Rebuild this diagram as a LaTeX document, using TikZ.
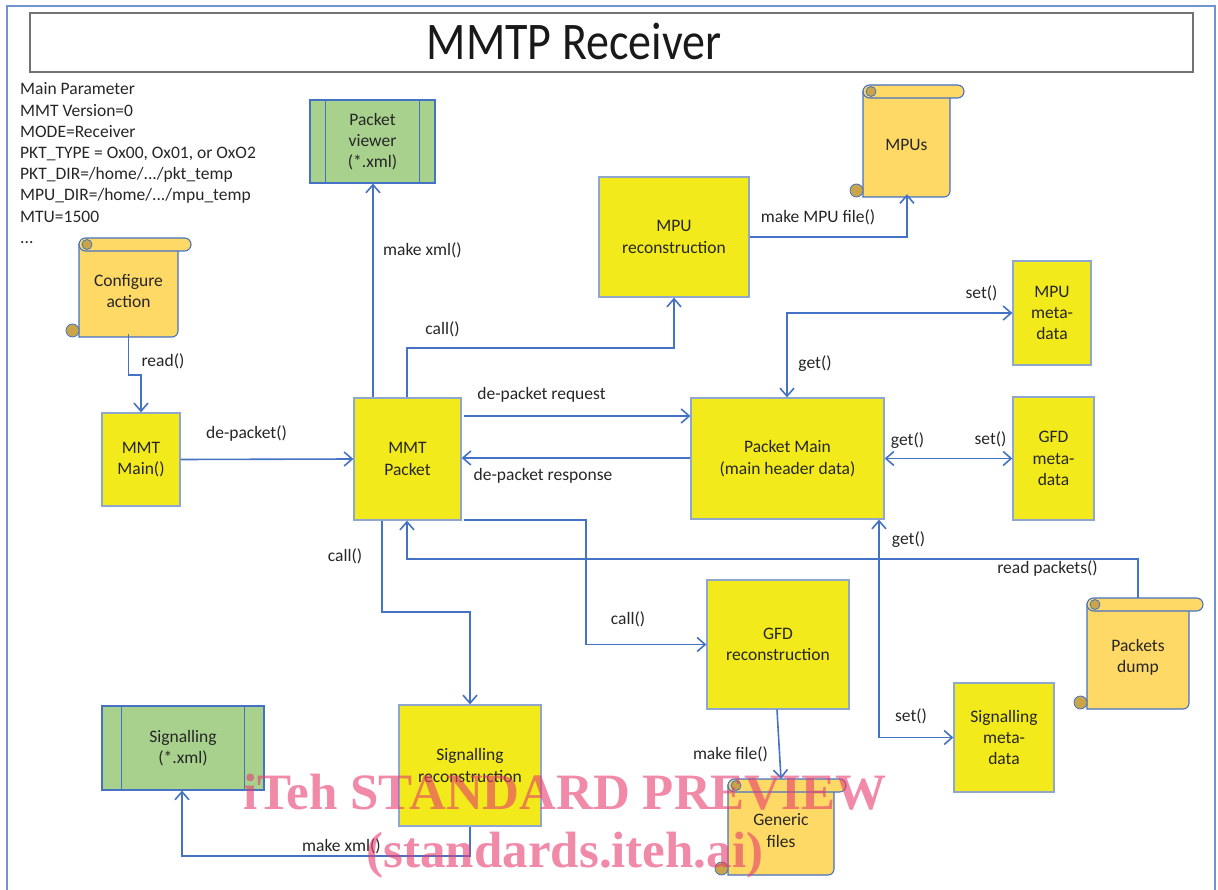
\documentclass[tikz,border=0pt]{standalone}
\usepackage{fontspec}
\setmainfont{Carlito}
\newfontfamily\wmfont{Liberation Serif}
\usetikzlibrary{arrows.meta}
\definecolor{lnblue}{HTML}{4472C4}
\definecolor{frameblue}{HTML}{6F95D0}
\definecolor{boxyel}{HTML}{F2EA1A}
\definecolor{boxedge}{HTML}{8FA6CF}
\definecolor{grn}{HTML}{A9D18E}
\definecolor{scr}{HTML}{FFD966}
\definecolor{curlc}{HTML}{C9A448}
\definecolor{wm}{RGB}{230,60,110}
\tikzset{
  lbl/.style={font=\fontsize{17.5}{21.3}\selectfont, inner sep=0pt, text=black!85},
  ybox/.style={draw=boxedge, line width=1.3pt, fill=boxyel, align=center,
    font=\fontsize{17.5}{21.3}\selectfont, inner sep=0pt, text=black!85},
  gbox/.style={draw=lnblue, line width=1.1pt, fill=grn, align=center,
    font=\fontsize{17.5}{21.3}\selectfont, inner sep=0pt, text=black!85},
  scrl/.style={draw=lnblue, line width=1.1pt, fill=scr},
  curlst/.style={draw=lnblue, line width=0.8pt, fill=curlc},
  conn/.style={draw=lnblue, line width=1.6pt, ->},
  both/.style={draw=lnblue, line width=1.6pt, <->},
  >={Straight Barb[length=8pt,width=14pt]}
}
% name, L, T, Rbar, Rbody, B, text
\newcommand\vscroll[7]{%
  \filldraw[scrl] (#2,#3+6) -- (#2,#6) -- (#5-6,#6)
     arc[start angle=-90,end angle=0,radius=6pt] -- (#5,#3+6) -- cycle;
  \filldraw[scrl, rounded corners=6.5pt] (#2,#3) rectangle (#4,#3+13);
  \filldraw[curlst] (#2+8,#3+6.5) circle (5pt);
  \filldraw[curlst] (#2-6.5,#6-6.5) circle (6.5pt);
  \node[lbl, align=center, minimum width={(#5-#2)*1pt}, minimum height={(#6-#3-13)*1pt}]
     (#1) at ({(#2+#5)/2},{(#3+13+#6)/2-3}) {#7};
  \coordinate (#1-top) at ({(#2+#5)/2},#3);
}
\begin{document}
\begin{tikzpicture}[x=1pt,y=-1pt]
\useasboundingbox (0,0) rectangle (1218,890);
% outer frame
\draw[frameblue, line width=1.2pt] (7,890) -- (7,6) -- (1215,6) -- (1215,890);
% title
\node[draw=black!55, line width=1.6pt, minimum width=1163pt, minimum height=59pt, inner sep=0pt]
  (title) at (611.5,42.5) {};
\node[inner sep=0pt, font=\fontsize{46}{50}\selectfont, text=black!90] (titletext) at (574,41)
  {\scalebox{1}[1.15]{MMTP Receiver}};

% parameter list
\node[lbl, anchor=base west] (p1) at (20,95) {Main Parameter};
\node[lbl, anchor=base west] (p2) at (20,116.2) {MMT Version=0};
\node[lbl, anchor=base west] (p3) at (20,137.4) {MODE=Receiver};
\node[lbl, anchor=base west] (p4) at (20,158.6) {PKT\_TYPE = Ox00, Ox01, or OxO2};
\node[lbl, anchor=base west] (p5) at (20,179.8) {PKT\_DIR=/home/.../pkt\_temp};
\node[lbl, anchor=base west] (p6) at (20,201) {MPU\_DIR=/home/.../mpu\_temp};
\node[lbl, anchor=base west] (p7) at (20,222.2) {MTU=1500};
\node[lbl, anchor=base west] (p8) at (20,243.4) {...};

% scrolls
\vscroll{cfg}{79}{238}{191}{178}{337}{Configure\\action}
\vscroll{mpus}{863}{85}{964}{950}{197}{MPUs}
\vscroll{pd}{1087}{598}{1203}{1189}{709}{Packets\\dump}
\vscroll{gen}{728}{779}{846}{834}{875}{Generic\\files}

% green boxes
\node[gbox, minimum width=125pt, minimum height=83pt] (pv) at (372.5,141.5) {Packet\\viewer\\(*.xml)};
\draw[lnblue, line width=1.1pt] ([xshift=16pt]pv.north west) -- ([xshift=16pt]pv.south west);
\draw[lnblue, line width=1.1pt] ([xshift=-16pt]pv.north east) -- ([xshift=-16pt]pv.south east);
\node[gbox, minimum width=162pt, minimum height=84pt] (sx) at (183,748) {Signalling\\(*.xml)};
\draw[lnblue, line width=1.1pt] ([xshift=20pt]sx.north west) -- ([xshift=20pt]sx.south west);
\draw[lnblue, line width=1.1pt] ([xshift=-20pt]sx.north east) -- ([xshift=-20pt]sx.south east);

% yellow boxes
\node[ybox, minimum width=150pt, minimum height=120pt] (mpur) at (674,237) {MPU\\reconstruction};
\node[ybox, minimum width=78pt, minimum height=104pt] (mpum) at (1052,313) {MPU\\meta-\\data};
\node[ybox, minimum width=78pt, minimum height=93pt] (main) at (141,459.5) {MMT\\Main()};
\node[ybox, minimum width=107pt, minimum height=122pt] (pkt) at (407.5,459) {MMT\\Packet};
\node[ybox, minimum width=193pt, minimum height=121pt] (pm) at (787.5,458.5) {Packet Main\\(main header data)};
\node[ybox, minimum width=81pt, minimum height=123pt] (gfdm) at (1053.5,458.5) {GFD\\meta-\\data};
\node[ybox, minimum width=142pt, minimum height=129pt] (gfdr) at (778,644.5) {GFD\\reconstruction};
\node[ybox, minimum width=100pt, minimum height=109pt] (sigm) at (1004,737.5) {Signalling\\meta-\\data};
\node[ybox, minimum width=142pt, minimum height=121pt] (sigr) at (470,765.5) {Signalling\\reconstruction};

% connectors
\draw[conn] (cfg.south) -- (cfg.south |- 0,375) -- (main.north |- 0,375) -- (main.north);
\node[lbl] (l1) at (163,361) {read()};
\draw[conn] (main.east) -- (pkt.west);
\node[lbl] (l2) at (246.5,434) {de-packet()};
\draw[conn] (373,0 |- pkt.north) -- (373,0 |- pv.south);
\node[lbl] (l3) at (422.5,250) {make xml()};
\draw[conn] (407,0 |- pkt.north) -- (407,348) -- (mpur.south |- 0,348) -- (mpur.south);
\node[lbl] (l4) at (442.5,329) {call()};
\draw[conn] (mpur.east) -- (907,0 |- mpur.east) -- (907,0 |- mpus.south);
\node[lbl] (l5) at (818,217) {make MPU file()};
\draw[conn] (464,416) -- (pm.west |- 0,416);
\node[lbl] (l6) at (541.5,395) {de-packet request};
\draw[conn] (pm.west |- 0,458) -- (pkt.east |- 0,458);
\node[lbl] (l7) at (543,476) {de-packet response};
\draw[both] (mpum.west |- 0,313) -- (787,313) -- (787,0 |- pm.north);
\node[lbl] (l8) at (981.5,293) {set()};
\node[lbl] (l9) at (815,364) {get()};
\draw[both] (pm.east) -- (gfdm.west |- pm.east);
\node[lbl] (l10) at (907.5,441) {get()};
\node[lbl] (l11) at (990.5,439) {set()};
\draw[both] (879,0 |- pm.south) -- (879,0 |- sigm.west) -- (sigm.west);
\node[lbl] (l12) at (908.5,540) {get()};
\node[lbl] (l13) at (911,716) {set()};
\draw[conn] (pd-top) -- (1138,559) -- (407,559) -- (407,0 |- pkt.south);
\node[lbl] (l14) at (1047.5,569) {read packets()};
\draw[conn] (464,520) -- (586,520) -- (586,0 |- gfdr.west) -- (gfdr.west);
\node[lbl] (l15) at (628,619) {call()};
\draw[conn] (382,0 |- pkt.south) -- (382,612) -- (sigr.north |- 0,612) -- (sigr.north);
\node[lbl] (l16) at (345,556) {call()};
\draw[conn] (777,0 |- gfdr.south) -- (gen-top);
\node[lbl] (l17) at (730.5,754) {make file()};
\draw[conn] (sigr.south) -- (sigr.south |- 0,856) -- (182,856) -- (182,0 |- sx.south);
\node[lbl] (l18) at (341.5,846) {make xml()};

% watermark
\node[inner sep=0pt, text=wm, text opacity=0.6, font=\wmfont\bfseries\fontsize{51}{55}\selectfont]
  (wm1) at (565,792) {iTeh STANDARD PREVIEW};
\node[inner sep=0pt, text=wm, text opacity=0.6, font=\wmfont\bfseries\fontsize{51}{55}\selectfont]
  (wm2) at (565,855) {(standards.iteh.ai)};
\end{tikzpicture}
\end{document}
